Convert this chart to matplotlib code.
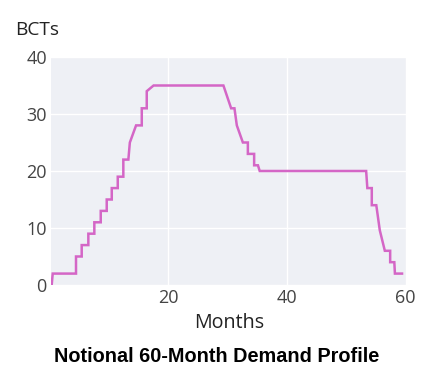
"""
Notional 60-month demand profile (BCTs per month).
"""

import matplotlib.pyplot as plt


# line vertices
MONTHS = [
    0.32, 0.49, 4.42, 4.42, 5.38, 5.38, 6.5, 6.5, 7.51, 7.51,
    8.59, 8.59, 9.6, 9.6, 10.45, 10.45, 11.46, 11.46, 12.4, 12.4,
    13.25, 13.5, 14.55, 15.51, 15.51, 16.35, 16.35, 17.5, 29.28, 30.58,
    31.14, 31.54, 32.56, 33.4, 33.4, 34.46, 34.46, 35.1, 35.4, 53.35,
    53.55, 54.3, 54.3, 55.06, 55.65, 56.5, 57.4, 57.4, 58.1, 58.2,
    59.4,
]
BCTS = [
    0, 2, 2, 5, 5, 7, 7, 9, 9, 11,
    11, 13, 13, 15, 15, 17, 17, 19, 19, 22,
    22, 25, 28, 28, 31, 31, 34, 35, 35, 31,
    31, 28, 25, 25, 23, 23, 21, 21, 20, 20,
    17, 17, 14, 14, 9.6, 6, 6, 4, 4, 2,
    2,
]

X_TICKS = [20, 40, 60]
Y_TICKS = [0, 10, 20, 30, 40]

LINE_COLOR = "#d466c6"
PLOT_BG = "#eef0f5"
TICK_COLOR = "#444444"


def main():
    fig = plt.figure(figsize=(4.48, 3.81), dpi=100)
    axis = fig.add_axes([0.1138, 0.252, 0.7947, 0.5984])
    axis.set_facecolor(PLOT_BG)

    axis.plot(MONTHS, BCTS, color=LINE_COLOR, linewidth=1.8,
              solid_joinstyle="miter", zorder=3)

    axis.set_xlim(0.2, 60.24)
    axis.set_ylim(0, 40)
    axis.set_xticks(X_TICKS)
    axis.set_yticks(Y_TICKS)
    axis.grid(True, color="white", linewidth=1.0)
    axis.set_axisbelow(True)
    for spine in axis.spines.values():
        spine.set_visible(False)
    axis.tick_params(axis="y", length=0, pad=3, labelsize=13,
                     labelcolor=TICK_COLOR)
    axis.tick_params(axis="x", length=0, pad=3, labelsize=13,
                     labelcolor=TICK_COLOR)
    for label in axis.get_xticklabels() + axis.get_yticklabels():
        label.set_fontfamily("Open Sans")

    fig.text(15 / 448, 1 - 35 / 381, "BCTs", fontsize=13.8,
             family="Open Sans", color="#222222", ha="left", va="baseline")
    fig.text(229 / 448, 1 - 328 / 381, "Months", fontsize=14.2,
             family="Open Sans", color="#222222", ha="center", va="baseline")
    fig.text(217 / 448, 1 - 362 / 381, "Notional 60-Month Demand Profile",
             fontsize=14.3, family="Liberation Sans", fontweight="bold",
             color="black", ha="center", va="baseline")

    fig.savefig("out.png", dpi=100)
    plt.close(fig)


if __name__ == "__main__":
    main()
